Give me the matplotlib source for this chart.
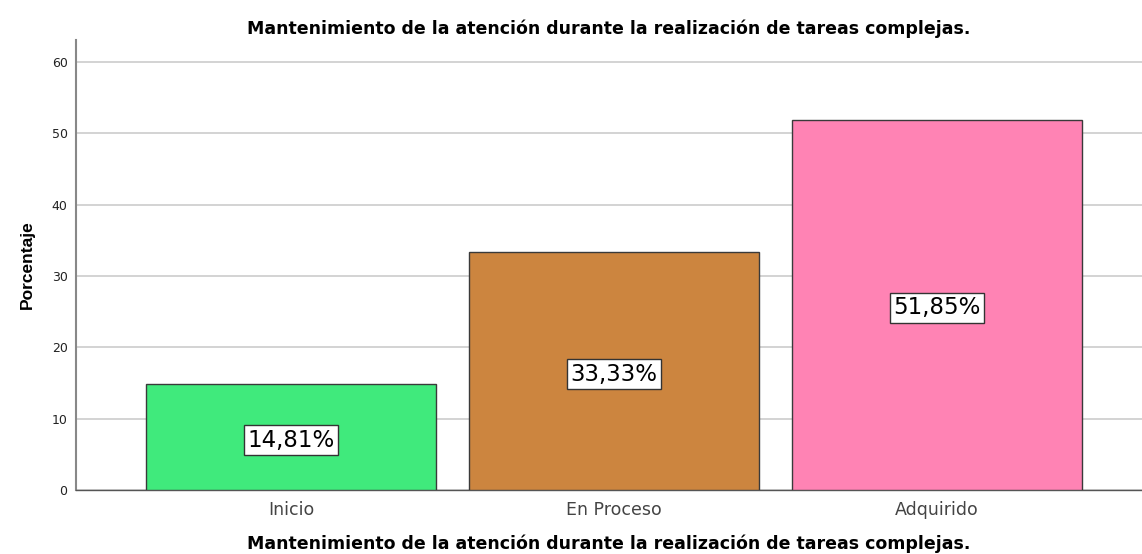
import numpy as np
import matplotlib.pyplot as plt

# datos
categorias = ['Inicio', 'En Proceso', 'Adquirido']
porcentajes = [14.81, 33.33, 51.85]
colores = ['#40EA7C', '#CC853F', '#FF83B4']
titulo = 'Mantenimiento de la atención durante la realización de tareas complejas.'

plt.rcParams['font.family'] = ['DejaVu Sans']

fig = plt.figure(figsize=(11.42, 5.54), dpi=100)
ax = fig.add_axes([0.0665, 0.1155, 0.9335, 0.8123])

x = np.arange(len(categorias))
ax.bar(x, porcentajes, width=0.898, color=colores, edgecolor='#3a3a3a', linewidth=1.0, zorder=3)

# etiquetas de porcentaje dentro de las barras
for xi, v in zip(x, porcentajes):
    ax.text(xi, v / 2 - 0.4, f'{v:.2f}%'.replace('.', ','), ha='center', va='center',
            fontsize=16.5, color='black', zorder=4,
            bbox=dict(boxstyle='square,pad=0.16', facecolor='white', edgecolor='#333333', linewidth=1))

ax.set_xlim(-0.666, 2.635)
ax.set_ylim(0, 63.1)
ax.set_yticks([0, 10, 20, 30, 40, 50, 60])
ax.set_xticks(x)
ax.set_xticklabels(categorias, fontsize=12.5, color='#444444')
ax.tick_params(axis='y', labelsize=9, length=0, pad=6, labelcolor='#222222')
ax.tick_params(axis='x', length=0, pad=8)

ax.yaxis.grid(True, color='#cccccc', linewidth=1.2, zorder=0)
ax.set_axisbelow(True)

for s in ['top', 'right']:
    ax.spines[s].set_visible(False)
ax.spines['left'].set_color('#888888')
ax.spines['left'].set_linewidth(1.5)
ax.spines['bottom'].set_color('#555555')
ax.spines['bottom'].set_linewidth(1.0)

ax.set_title(titulo, fontsize=12.5, fontweight='bold', pad=4)
ax.set_xlabel(titulo, fontsize=12.5, fontweight='bold', labelpad=11)
ax.set_ylabel('Porcentaje', fontsize=12.5, fontweight='bold', labelpad=12,
              family=['Liberation Sans Narrow', 'Liberation Sans'])

fig.savefig('out.png', dpi=100)
